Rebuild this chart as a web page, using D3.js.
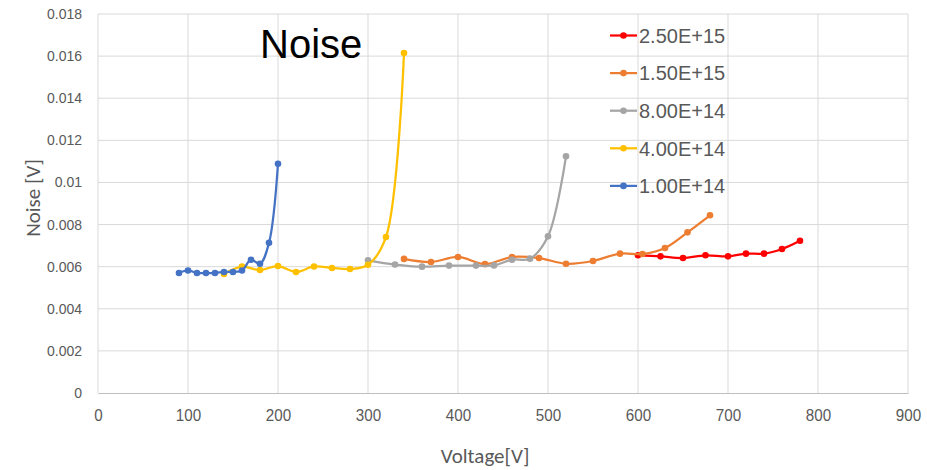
<!DOCTYPE html>
<html>
<head>
<meta charset="utf-8">
<script src="https://cdn.jsdelivr.net/npm/d3@7"></script>
<style>
  body { margin: 0; background: #fff; }
  svg { display: block; font-family: Calibri, "Liberation Sans", Arial, sans-serif; }
</style>
</head>
<body>
<script>
"use strict";

// Data (voltage [V], noise [V])

const seriesNames = ["2.50E+15", "1.50E+15", "8.00E+14", "4.00E+14", "1.00E+14"];
const seriesColors = ["#ff0000", "#ed7d31", "#a5a5a5", "#ffc000", "#4472c4"];

const v250e15 = [600, 625, 650, 675, 700, 720, 740, 760, 780];
const n250e15 = [0.00654, 0.00649, 0.00641, 0.00654, 0.00649, 0.00662, 0.00662, 0.00684, 0.00723];

const v150e15 = [340, 370, 400, 430, 460, 490, 520, 550, 580, 605, 630, 655, 680];
const n150e15 = [0.00637, 0.00622, 0.00646, 0.00612, 0.00646, 0.00641, 0.00614, 0.00627, 0.00662, 0.0066, 0.00689, 0.00763, 0.00844];

const v800e14 = [300, 330, 360, 390, 420, 440, 460, 480, 500, 520];
const n800e14 = [0.0063, 0.0061, 0.006, 0.00605, 0.00605, 0.00606, 0.00633, 0.00638, 0.00744, 0.01124];

const v400e14 = [140, 160, 180, 200, 220, 240, 260, 280, 300, 320, 340];
const n400e14 = [0.00565, 0.006, 0.00584, 0.00603, 0.00575, 0.00601, 0.00594, 0.00589, 0.00609, 0.00741, 0.01615];

const v100e14 = [90, 100, 110, 120, 130, 140, 150, 160, 170, 180, 190, 200];
const n100e14 = [0.0057, 0.00582, 0.0057, 0.0057, 0.0057, 0.00575, 0.00575, 0.00582, 0.00633, 0.00614, 0.00713, 0.01089];

const xTicks = [0, 100, 200, 300, 400, 500, 600, 700, 800, 900];
const yTicks = [0, 0.002, 0.004, 0.006, 0.008, 0.01, 0.012, 0.014, 0.016, 0.018];

const voltages = [v250e15, v150e15, v800e14, v400e14, v100e14];
const noises = [n250e15, n150e15, n800e14, n400e14, n100e14];

const series = seriesNames.map((name, k) => ({
    name,
    color: seriesColors[k],
    points: voltages[k].map((v, i) => ({ v, n: noises[k][i] }))
}));

// Size parameters

const width = 927;
const height = 470;
const margin = { top: 14, right: 19, bottom: 77, left: 98 };
const sansFont = '"Liberation Sans", Arial, sans-serif';

const svg = d3.select("body")
    .append("svg")
    .attr("width", width)
    .attr("height", height);

const x = d3.scaleLinear().domain([0, 900]).range([margin.left, width - margin.right]);
const y = d3.scaleLinear().domain([0, 0.018]).range([height - margin.bottom, margin.top]);

/*************
 * Gridlines *
 *************/

svg.append("g")
    .selectAll("line")
    .data(yTicks.slice(1))
    .join("line")
    .attr("x1", x(0))
    .attr("x2", x(900))
    .attr("y1", d => y(d))
    .attr("y2", d => y(d))
    .attr("stroke", "#d9d9d9")
    .attr("stroke-width", 1);

svg.append("g")
    .selectAll("line")
    .data(xTicks)
    .join("line")
    .attr("x1", d => x(d))
    .attr("x2", d => x(d))
    .attr("y1", y(0))
    .attr("y2", y(0.018))
    .attr("stroke", "#d9d9d9")
    .attr("stroke-width", 1);

/********
 * Axes *
 ********/

const xAxis = svg.append("g")
    .attr("transform", `translate(0,${y(0)})`)
    .call(d3.axisBottom(x).tickValues(xTicks).tickSize(0).tickFormat(d3.format("d")));

xAxis.select(".domain").attr("stroke", "#bfbfbf");
xAxis.selectAll("text")
    .attr("fill", "#595959")
    .attr("font-size", 16)
    .attr("y", 26.4)
    .attr("dy", 0)
    .attr("transform", "scale(0.95,1.05)");

const yAxis = svg.append("g")
    .attr("transform", `translate(${x(0)},0)`)
    .call(d3.axisLeft(y).tickValues(yTicks).tickSize(0).tickPadding(16).tickFormat(d => d === 0 ? "0" : String(+d.toFixed(3))));

yAxis.select(".domain").remove();
yAxis.selectAll("text")
    .attr("fill", "#595959")
    .attr("font-size", 14);

// Axis titles

svg.append("text")
    .attr("x", 485)
    .attr("y", 463)
    .attr("text-anchor", "middle")
    .attr("fill", "#595959")
    .attr("font-size", 21)
    .text("Voltage[V]");

svg.append("text")
    .attr("transform", "translate(40,198) rotate(-90)")
    .attr("text-anchor", "middle")
    .attr("fill", "#595959")
    .attr("font-size", 21)
    .text("Noise [V]");

// Title

svg.append("text")
    .attr("x", 260)
    .attr("y", 57.5)
    .attr("fill", "#000")
    .attr("font-family", sansFont)
    .attr("font-size", 40)
    .text("Noise");

/****************
 * Render Lines *
 ****************/

const line = d3.line()
    .x(d => x(d.v))
    .y(d => y(d.n))
    .curve(d3.curveCatmullRom.alpha(0.5));

const groups = svg.append("g")
    .selectAll("g")
    .data(series)
    .join("g");

groups.append("path")
    .attr("d", d => line(d.points))
    .attr("fill", "none")
    .attr("stroke", d => d.color)
    .attr("stroke-width", 2.25)
    .attr("stroke-linejoin", "round");

groups.selectAll("circle")
    .data(d => d.points.map(p => ({ ...p, color: d.color })))
    .join("circle")
    .attr("cx", d => x(d.v))
    .attr("cy", d => y(d.n))
    .attr("r", 3.3)
    .attr("fill", d => d.color);

/**********
 * Legend *
 **********/

const legend = svg.append("g")
    .selectAll("g")
    .data(series)
    .join("g")
    .attr("transform", (d, i) => `translate(610,${35.5 + i * 37.6})`);

legend.append("line")
    .attr("x1", 0)
    .attr("x2", 27)
    .attr("stroke", d => d.color)
    .attr("stroke-width", 2.25);

legend.append("circle")
    .attr("cx", 13.5)
    .attr("r", 3.3)
    .attr("fill", d => d.color);

legend.append("text")
    .attr("x", 29)
    .attr("dy", "0.36em")
    .attr("fill", "#595959")
    .attr("font-family", sansFont)
    .attr("font-size", 20)
    .text(d => d.name);
</script>
</body>
</html>
